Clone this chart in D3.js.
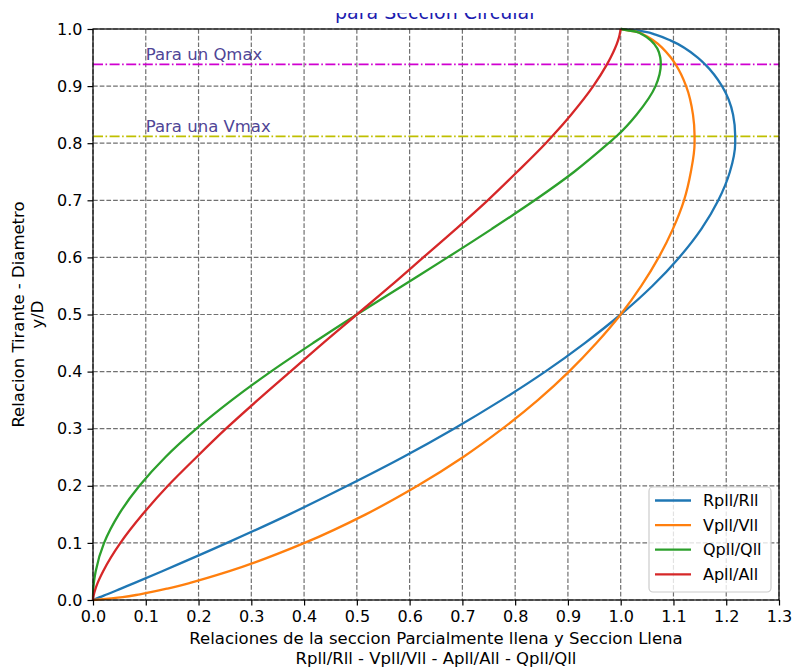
<!DOCTYPE html>
<html>
<head>
<meta charset="utf-8">
<script src="https://cdn.jsdelivr.net/npm/d3@7"></script>
<style>
  body { margin: 0; background: #fff; }
  text { font-family: "DejaVu Sans", sans-serif; }
</style>
</head>
<body>
<div id="chart"></div>
<script>
var yD   = [0, 0.005, 0.01, 0.02, 0.03, 0.05, 0.1, 0.15, 0.2, 0.25, 0.3, 0.35, 0.4, 0.45, 0.5,
            0.55, 0.6, 0.65, 0.7, 0.75, 0.8, 0.813, 0.85, 0.9, 0.938, 0.95, 0.98, 0.99, 0.995, 1.0];
var rpll = [0, 0.013, 0.027, 0.053, 0.079, 0.130, 0.254, 0.372, 0.482, 0.587, 0.684, 0.774, 0.857, 0.932, 1.0,
            1.060, 1.111, 1.153, 1.185, 1.207, 1.217, 1.217, 1.213, 1.192, 1.160, 1.146, 1.094, 1.066, 1.047, 1.0];
var vpll = [0, 0.056, 0.089, 0.141, 0.184, 0.257, 0.401, 0.517, 0.615, 0.701, 0.776, 0.843, 0.902, 0.954, 1.0,
            1.039, 1.072, 1.099, 1.120, 1.133, 1.140, 1.140, 1.137, 1.124, 1.104, 1.095, 1.062, 1.044, 1.031, 1.0];
var qpll = [0, 0.00003, 0.00015, 0.0007, 0.0016, 0.005, 0.021, 0.049, 0.088, 0.137, 0.196, 0.263, 0.337, 0.417, 0.5,
            0.586, 0.672, 0.756, 0.837, 0.912, 0.977, 0.993, 1.030, 1.066, 1.076, 1.075, 1.057, 1.042, 1.030, 1.0];
var apll = [0, 0.0006, 0.0017, 0.0048, 0.0088, 0.019, 0.052, 0.094, 0.142, 0.196, 0.252, 0.312, 0.374, 0.436, 0.5,
            0.564, 0.626, 0.688, 0.748, 0.804, 0.858, 0.871, 0.906, 0.948, 0.974, 0.981, 0.995, 0.998, 0.999, 1.0];

var seriesNames = ["Rpll/Rll", "Vpll/Vll", "Qpll/Qll", "Apll/All"];
var xTicks = [0, 0.1, 0.2, 0.3, 0.4, 0.5, 0.6, 0.7, 0.8, 0.9, 1.0, 1.1, 1.2, 1.3];
var yTicks = [0, 0.1, 0.2, 0.3, 0.4, 0.5, 0.6, 0.7, 0.8, 0.9, 1.0];
var refLevels = [0.938, 0.812];
var refLabels = ["Para un Qmax", "Para una Vmax"];
var refLabelY = [0.945, 0.82];

var width = 792, height = 671;
var margin = {top: 29, right: 13, bottom: 71, left: 93};
var w = width - margin.left - margin.right,
    h = height - margin.top - margin.bottom;

var colors = ["#1f77b4", "#ff7f0e", "#2ca02c", "#d62728"];

var svg = d3.select("#chart").append("svg")
    .attr("width", width)
    .attr("height", height);

var g = svg.append("g")
    .attr("transform", "translate(" + margin.left + "," + margin.top + ")");

var x = d3.scaleLinear().domain([0, 1.3]).range([0, w]);
var y = d3.scaleLinear().domain([0, 1]).range([h, 0]);

// grid
g.append("g").selectAll("line").data(xTicks).enter().append("line")
    .attr("x1", function (d) { return x(d); })
    .attr("x2", function (d) { return x(d); })
    .attr("y1", 0).attr("y2", h)
    .attr("stroke", "#707070").attr("stroke-width", 1.2)
    .attr("stroke-dasharray", "4.7,2");
g.append("g").selectAll("line").data(yTicks).enter().append("line")
    .attr("y1", function (d) { return y(d); })
    .attr("y2", function (d) { return y(d); })
    .attr("x1", 0).attr("x2", w)
    .attr("stroke", "#707070").attr("stroke-width", 1.2)
    .attr("stroke-dasharray", "4.7,2");

// reference lines
var refColors = ["#d000d0", "#bfbf00"];
refLevels.forEach(function (lv, i) {
    g.append("line")
        .attr("x1", 0).attr("x2", w)
        .attr("y1", y(lv)).attr("y2", y(lv))
        .attr("stroke", refColors[i]).attr("stroke-width", 1.6)
        .attr("stroke-dasharray", "10,2.5,1.6,2.5");
    g.append("text")
        .attr("x", x(0.1)).attr("y", y(refLabelY[i]))
        .attr("font-size", 16.5).attr("fill", "#4f4596")
        .text(refLabels[i]);
});

// curves
var seriesData = [rpll, vpll, qpll, apll];
var line = d3.line()
    .x(function (d) { return x(d[0]); })
    .y(function (d) { return y(d[1]); })
    .curve(d3.curveMonotoneY);

seriesData.forEach(function (vals, i) {
    var pts = vals.map(function (v, j) { return [v, yD[j]]; });
    g.append("path")
        .datum(pts)
        .attr("d", line)
        .attr("fill", "none")
        .attr("stroke", colors[i])
        .attr("stroke-width", 2.3);
});

// axes
var xAxis = d3.axisBottom(x).tickValues(xTicks).tickFormat(d3.format(".1f")).tickSizeOuter(0).tickSize(5.5).tickPadding(5);
var yAxis = d3.axisLeft(y).tickValues(yTicks).tickFormat(d3.format(".1f")).tickSizeOuter(0).tickSize(5.5).tickPadding(5);

var gx = g.append("g").attr("transform", "translate(0," + h + ")").call(xAxis);
var gy = g.append("g").call(yAxis);
[gx, gy].forEach(function (a) {
    a.select(".domain").remove();
    a.selectAll("text").attr("font-family", "DejaVu Sans").attr("font-size", 16).attr("fill", "#000");
    a.selectAll("line").attr("stroke", "#000").attr("stroke-width", 1.2);
});

// frame
g.append("rect")
    .attr("width", w).attr("height", h)
    .attr("fill", "none").attr("stroke", "#000").attr("stroke-width", 1.2);

// legend
var lg = svg.append("g");
lg.append("rect")
    .attr("x", 649).attr("y", 487).attr("width", 122).attr("height", 105)
    .attr("rx", 4)
    .attr("fill", "#fff").attr("fill-opacity", 0.8)
    .attr("stroke", "#cccccc").attr("stroke-width", 1.2);
seriesNames.forEach(function (name, i) {
    var cy = 500.5 + i * 24.6;
    lg.append("line")
        .attr("x1", 655).attr("x2", 691)
        .attr("y1", cy).attr("y2", cy)
        .attr("stroke", colors[i]).attr("stroke-width", 2.3);
    lg.append("text")
        .attr("x", 703).attr("y", cy)
        .attr("dominant-baseline", "central")
        .attr("font-size", 16)
        .text(name);
});

// axis labels
svg.append("text")
    .attr("x", margin.left + w / 2).attr("y", 644)
    .attr("text-anchor", "middle").attr("font-size", 16.5)
    .text("Relaciones de la seccion Parcialmente llena y Seccion Llena");
svg.append("text")
    .attr("x", margin.left + w / 2).attr("y", 663.5)
    .attr("text-anchor", "middle").attr("font-size", 16.5)
    .text("Rpll/Rll - Vpll/Vll - Apll/All - Qpll/Qll");

svg.append("text")
    .attr("transform", "translate(24," + (margin.top + h / 2) + ") rotate(-90)")
    .attr("text-anchor", "middle").attr("font-size", 16.5)
    .text("Relacion Tirante - Diametro");
svg.append("text")
    .attr("transform", "translate(43," + (margin.top + h / 2) + ") rotate(-90)")
    .attr("text-anchor", "middle").attr("font-size", 16.5)
    .text("y/D");

// title, top of it is cut off in the picture
svg.append("defs").append("clipPath").attr("id", "titleClip")
    .append("rect").attr("x", 0).attr("y", 13).attr("width", width).attr("height", 20);
svg.append("text")
    .attr("clip-path", "url(#titleClip)")
    .attr("x", margin.left + w / 2).attr("y", 18.5)
    .attr("text-anchor", "middle").attr("font-size", 19)
    .attr("fill", "#1c1cb0")
    .text("para Seccion Circular");
</script>
</body>
</html>
